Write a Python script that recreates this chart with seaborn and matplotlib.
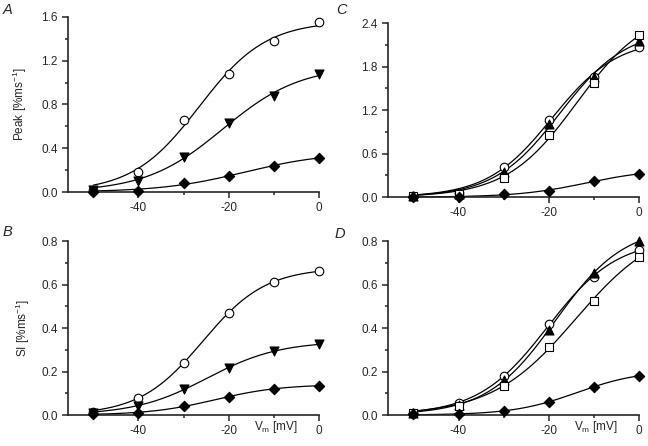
import numpy as np
import pandas as pd
import matplotlib
matplotlib.use('Agg')
import matplotlib.pyplot as plt
import seaborn as sns

# ================================
# DATA
# ================================
vm = [-50, -40, -30, -20, -10, 0]

# A - Peak
peak_a_circle = [0.02, 0.18, 0.66, 1.08, 1.38, 1.55]
peak_a_tri = [0.02, 0.10, 0.32, 0.63, 0.88, 1.08]
peak_a_diam = [0.00, 0.01, 0.08, 0.15, 0.235, 0.315]

# B - SI
si_b_circle = [0.015, 0.08, 0.238, 0.47, 0.61, 0.664]
si_b_tri = [0.008, 0.043, 0.12, 0.215, 0.294, 0.325]
si_b_diam = [0.004, 0.01, 0.041, 0.084, 0.12, 0.135]

# C - Peak
peak_c_circle = [0.01, 0.055, 0.41, 1.067, 1.66, 2.07]
peak_c_tri = [0.01, 0.05, 0.345, 1.01, 1.655, 2.15]
peak_c_square = [0.01, 0.04, 0.27, 0.864, 1.57, 2.24]
peak_c_diam = [0.0, 0.0, 0.045, 0.09, 0.22, 0.32]

# D - SI
si_d_circle = [0.01, 0.054, 0.18, 0.417, 0.636, 0.758]
si_d_tri = [0.01, 0.045, 0.16, 0.39, 0.654, 0.80]
si_d_square = [0.01, 0.04, 0.135, 0.314, 0.526, 0.728]
si_d_diam = [0.005, 0.005, 0.018, 0.061, 0.13, 0.18]

# ================================
# STYLE
# ================================
sns.set_style("ticks")
plt.rcParams['font.family'] = ['Liberation Sans', 'DejaVu Sans']
plt.rcParams['mathtext.fontset'] = 'custom'
plt.rcParams['mathtext.rm'] = 'Liberation Sans'
plt.rcParams['mathtext.it'] = 'Liberation Sans:italic'
plt.rcParams['axes.unicode_minus'] = False

FS = 8.5

MARKERS = {
    'circle': dict(marker='o', color='white', edgecolor='black', s=38),
    'tri_down': dict(marker='v', color='black', edgecolor='black', s=42),
    'tri_up': dict(marker='^', color='black', edgecolor='black', s=42),
    'square': dict(marker='s', color='white', edgecolor='black', s=32),
    'diam': dict(marker='D', color='black', edgecolor='black', s=28),
}


def boltzmann_fit(x, y):
    # least-squares Boltzmann fit: y = A / (1 + exp((vh - x) / k))
    x = np.asarray(x, float)
    y = np.asarray(y, float)
    best = None
    for vh in np.arange(-45, 15, 0.25):
        for k in np.arange(2, 25, 0.1):
            g = 1.0 / (1.0 + np.exp((vh - x) / k))
            a = (g @ y) / (g @ g)
            err = np.sum((a * g - y) ** 2)
            if best is None or err < best[0]:
                best = (err, a, vh, k)
    _, a, vh, k = best
    xs = np.linspace(x.min(), x.max(), 200)
    return xs, a / (1.0 + np.exp((vh - xs) / k))


def draw_panel(ax, series, ylim, yticks, yminor):
    for values, kind in series:
        xs, ys = boltzmann_fit(vm, values)
        sns.lineplot(x=xs, y=ys, ax=ax, color='black', linewidth=0.9,
                     clip_on=False)
        sns.scatterplot(x=vm, y=values, ax=ax, linewidth=0.8,
                        clip_on=False, zorder=5, **MARKERS[kind])
    ax.set_xlim(-55.6, 0)
    ax.set_ylim(*ylim)
    ax.set_xticks([-40, -20, 0])
    ax.set_xticks([-50, -30, -10], minor=True)
    ax.set_yticks(yticks)
    ax.set_yticks(yminor, minor=True)
    ax.set_yticklabels([f'{t:.1f}' for t in yticks])
    sns.despine(ax=ax)
    for sp in ['left', 'bottom']:
        ax.spines[sp].set_linewidth(1.2)
    ax.tick_params(which='major', length=4, width=1.1, labelsize=FS,
                   direction='out')
    ax.tick_params(axis='y', which='major', pad=3.5)
    ax.tick_params(axis='x', which='major', pad=3)
    ax.tick_params(which='minor', length=2.2, width=1.1, direction='out')
    ax.set_xlabel('')
    ax.set_ylabel('')


fig = plt.figure(figsize=(6.48, 4.46), dpi=100)
ax_a = fig.add_axes([0.105, 0.5695, 0.387, 0.3925])
ax_c = fig.add_axes([0.599, 0.558, 0.387, 0.390])
ax_b = fig.add_axes([0.105, 0.0695, 0.387, 0.390])
ax_d = fig.add_axes([0.599, 0.0695, 0.387, 0.390])

draw_panel(ax_a, [(peak_a_circle, 'circle'), (peak_a_tri, 'tri_down'),
                  (peak_a_diam, 'diam')],
           (0, 1.6), [0, 0.4, 0.8, 1.2, 1.6], [0.2, 0.6, 1.0, 1.4])
draw_panel(ax_b, [(si_b_circle, 'circle'), (si_b_tri, 'tri_down'),
                  (si_b_diam, 'diam')],
           (0, 0.8), [0, 0.2, 0.4, 0.6, 0.8], [0.1, 0.3, 0.5, 0.7])
draw_panel(ax_c, [(peak_c_circle, 'circle'), (peak_c_tri, 'tri_up'),
                  (peak_c_square, 'square'), (peak_c_diam, 'diam')],
           (0, 2.4), [0, 0.6, 1.2, 1.8, 2.4], [0.3, 0.9, 1.5, 2.1])
draw_panel(ax_d, [(si_d_circle, 'circle'), (si_d_tri, 'tri_up'),
                  (si_d_square, 'square'), (si_d_diam, 'diam')],
           (0, 0.8), [0, 0.2, 0.4, 0.6, 0.8], [0.1, 0.3, 0.5, 0.7])

ax_a.set_ylabel('Peak [%ms$^{-1}$]', fontsize=FS)
ax_a.yaxis.set_label_coords(-0.155, 0.5)
ax_b.set_ylabel('SI [%ms$^{-1}$]', fontsize=FS)
ax_b.yaxis.set_label_coords(-0.145, 0.5)

for ax in (ax_b, ax_d):
    ax.text(-9.5, -0.068, 'V$_\\mathregular{m}$ [mV]', fontsize=FS,
            ha='center', va='center', transform=ax.get_xaxis_transform())

for x, y, s in [(3, 3, 'A'), (336, 3, 'C'), (3, 225, 'B'), (335, 227, 'D')]:
    fig.text(x / 648, 1 - y / 446, s, fontsize=10.5, style='italic',
             ha='left', va='top')

plt.savefig('out.png', dpi=100)
